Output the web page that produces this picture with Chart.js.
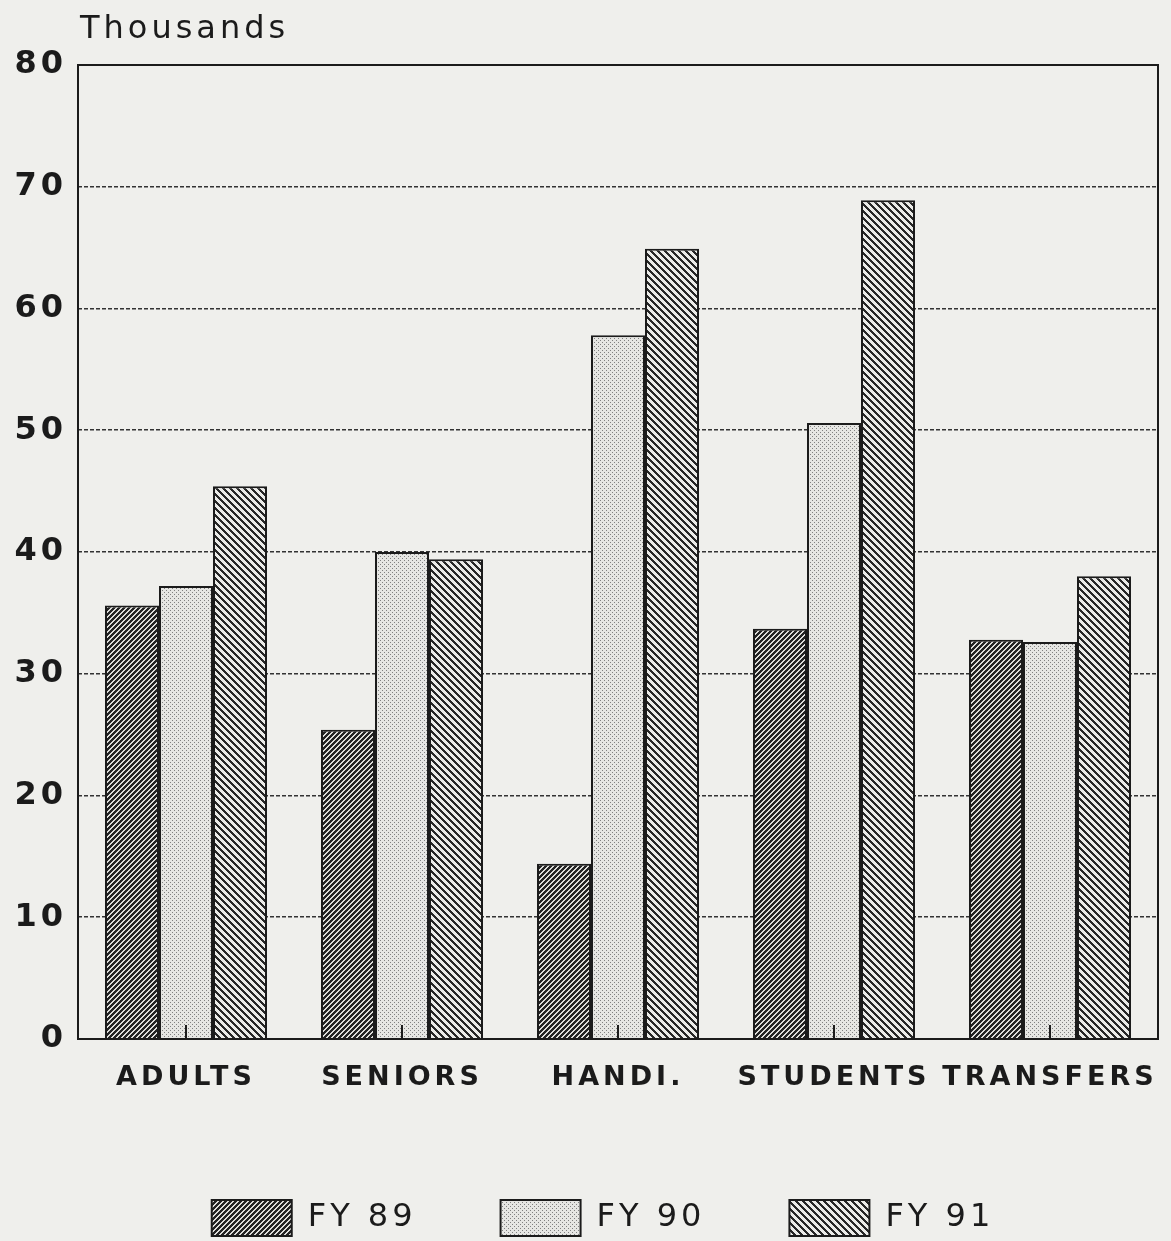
<!DOCTYPE html>
<html>
<head>
<meta charset="utf-8">
<script src="https://cdn.jsdelivr.net/npm/chart.js@4/dist/chart.umd.min.js"></script>
<style>
  html, body { margin: 0; padding: 0; background: #efefec; }
  #wrap { width: 1171px; height: 1241px; }
</style>
</head>
<body>
<div id="wrap"><canvas id="riders" width="1171" height="1241"></canvas></div>
<script>
const categories = ["ADULTS", "SENIORS", "HANDI.", "STUDENTS", "TRANSFERS"];
const seriesNames = ["FY 89", "FY 90", "FY 91"];
const fy89 = [35.6, 25.4, 14.4, 33.7, 32.8];
const fy90 = [37.2, 40.0, 57.8, 50.6, 32.6];
const fy91 = [45.4, 39.4, 64.9, 68.9, 38.0];
const yTicks = [0, 10, 20, 30, 40, 50, 60, 70, 80];

const ink = "#1b1b1b";
const canvas = document.getElementById("riders");
const ctx = canvas.getContext("2d");

// pixel-stepped diagonal stripes; "/" uses x+y, "\" uses x-y
function hatch(tile, w, bg, fg, dir) {
  const c = document.createElement("canvas");
  c.width = c.height = tile;
  const g = c.getContext("2d");
  g.fillStyle = bg;
  g.fillRect(0, 0, tile, tile);
  g.fillStyle = fg;
  for (let y = 0; y < tile; y++) {
    for (let x = 0; x < tile; x++) {
      const d = dir === "/" ? x + y : x - y + tile;
      if (d % tile < w) g.fillRect(x, y, 1, 1);
    }
  }
  return ctx.createPattern(c, "repeat");
}

// fine stipple for the middle year
function dots() {
  const c = document.createElement("canvas");
  c.width = c.height = 4;
  const g = c.getContext("2d");
  g.fillStyle = "#e6e6e3";
  g.fillRect(0, 0, 4, 4);
  g.fillStyle = "#808080";
  g.fillRect(0, 0, 1, 1);
  g.fillRect(2, 2, 1, 1);
  return ctx.createPattern(c, "repeat");
}

const fills = [
  hatch(5, 3, "#dcdcd9", "#232323", "/"),
  dots(),
  hatch(7, 3, "#ebebe8", "#272727", "\\")
];

// wide lettering like the old plotter output
const spacing = {
  id: "spacing",
  beforeUpdate(chart) { chart.ctx.letterSpacing = "4px"; },
  beforeDraw(chart) { chart.ctx.letterSpacing = "4px"; }
};

// nudge the legend row to sit under the right part of the plot
const legendShift = {
  id: "legendShift",
  afterLayout(chart) {
    const l = chart.legend;
    l.left += 24; l.right += 24;
    l.top += 5; l.bottom += 5;
  }
};

// plot frame, unit caption and the small category ticks
const frame = {
  id: "frame",
  afterDraw(chart) {
    const a = chart.chartArea;
    const c = chart.ctx;
    const x = chart.scales.x;
    c.save();
    c.strokeStyle = ink;
    c.lineWidth = 2;
    c.strokeRect(a.left, a.top, a.right - a.left, a.bottom - a.top);
    c.beginPath();
    categories.forEach((_, i) => {
      const px = x.getPixelForTick(i);
      c.moveTo(px, a.bottom);
      c.lineTo(px, a.bottom - 14);
    });
    c.stroke();
    c.fillStyle = ink;
    c.font = "32px 'DejaVu Sans'";
    c.textAlign = "left";
    c.textBaseline = "alphabetic";
    c.fillText("Thousands", a.left + 2, 38);
    c.restore();
  }
};

new Chart(ctx, {
  type: "bar",
  data: {
    labels: categories,
    datasets: [fy89, fy90, fy91].map((vals, i) => ({
      label: seriesNames[i],
      data: vals,
      backgroundColor: fills[i],
      borderColor: ink,
      borderWidth: 2,
      borderSkipped: "bottom",
      barPercentage: 1,
      categoryPercentage: 0.75
    }))
  },
  options: {
    responsive: false,
    animation: false,
    devicePixelRatio: 1,
    layout: { padding: { top: 65, right: 13, left: 0, bottom: 0 } },
    scales: {
      x: {
        grid: { display: false, drawTicks: false },
        border: { display: false },
        ticks: {
          color: ink,
          padding: 23,
          maxRotation: 0,
          autoSkip: false,
          font: { family: "'DejaVu Sans'", size: 27, weight: "bold" }
        },
        afterFit(s) {
          s.height = 72;
          s.paddingLeft = 0;
          s.paddingRight = 0;
        }
      },
      y: {
        min: 0,
        max: 80,
        afterBuildTicks(s) { s.ticks = yTicks.map(v => ({ value: v })); },
        grid: {
          drawTicks: false,
          lineWidth: 1.6,
          color: c => (c.tick && (c.tick.value === 0 || c.tick.value === 80)) ? "rgba(0,0,0,0)" : "#333333"
        },
        border: { display: false, dash: [4, 2] },
        ticks: {
          color: ink,
          padding: 11,
          font: { family: "'DejaVu Sans'", size: 32, weight: "bold" }
        },
        afterFit(s) { s.width = 78; }
      }
    },
    plugins: {
      tooltip: { enabled: false },
      legend: {
        position: "bottom",
        labels: {
          color: ink,
          boxWidth: 80,
          boxHeight: 36,
          padding: 84,
          font: { family: "'DejaVu Sans'", size: 32 }
        }
      }
    }
  },
  plugins: [spacing, legendShift, frame]
});
</script>
</body>
</html>
